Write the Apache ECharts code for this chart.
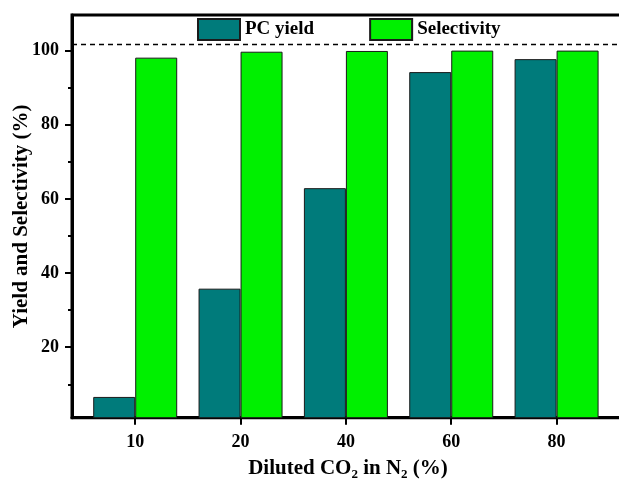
<!DOCTYPE html>
<html>
<head>
<meta charset="utf-8">
<script src="https://cdn.jsdelivr.net/npm/echarts@6/dist/echarts.min.js"></script>
<style>
  html, body { margin: 0; padding: 0; background: #fff; }
  #chart { width: 619px; height: 480px; }
</style>
</head>
<body>
<div id="chart"></div>
<script>
// CO2 concentration groups (x axis) and measured results per group
const categories = ['10', '20', '40', '60', '80'];
const pcYield = [6.6, 35.8, 62.9, 94.2, 97.7];
const selectivity = [98.1, 99.7, 99.9, 100, 100];
const yMajorTicks = [20, 40, 60, 80, 100];
const yMinorTicks = [10, 30, 50, 70, 90];
const referenceLevel = 101.6;

const FONT = '"Liberation Serif", "Times New Roman", serif';
const TEAL = '#007B7B';
const GREEN = '#00F000';

// categories are placed at positions 1..n on a numeric axis
const positions = categories.map((_, i) => i + 1);
const toPairs = (vals) => vals.map((v, i) => [positions[i], v]);

const chart = echarts.init(document.getElementById('chart'), null, { renderer: 'canvas' });

chart.setOption({
  animation: false,
  backgroundColor: '#fff',
  grid: {
    left: 72, top: 15, width: 552, height: 402.7,
    containLabel: false,
    outerBoundsMode: 'none',
    show: true, borderColor: '#000', borderWidth: 3, backgroundColor: 'transparent'
  },
  legend: {
    left: 192, top: 13,
    itemWidth: 42, itemHeight: 21, itemGap: 55,
    icon: 'rect',
    textStyle: { fontFamily: FONT, fontWeight: 'bold', fontSize: 19, color: '#000' },
    data: ['PC yield', 'Selectivity']
  },
  xAxis: {
    type: 'value',
    min: 0.4, max: 5.64,
    name: 'Diluted CO{sub|2} in N{sub|2} (%)',
    nameLocation: 'middle',
    nameGap: 39,
    nameTextStyle: {
      fontFamily: FONT, fontWeight: 'bold', fontSize: 21, color: '#000', lineHeight: 24,
      rich: {
        sub: { fontFamily: FONT, fontWeight: 'bold', fontSize: 13, color: '#000',
               lineHeight: 13, verticalAlign: 'bottom' }
      }
    },
    axisLine: { lineStyle: { color: '#000', width: 3 } },
    axisTick: { show: true, inside: false, length: 7, customValues: positions,
                lineStyle: { color: '#000', width: 2 } },
    axisLabel: {
      customValues: positions,
      formatter: (v) => categories[Math.round(v) - 1] || '',
      margin: 16,
      fontFamily: FONT, fontWeight: 'bold', fontSize: 18, color: '#000'
    },
    splitLine: { show: false }
  },
  yAxis: [
    {
      type: 'value',
      min: 1, max: 109.6,
      name: 'Yield and Selectivity (%)',
      nameLocation: 'middle',
      nameGap: 40,
      nameMoveOverlap: false,
      nameTextStyle: { fontFamily: FONT, fontWeight: 'bold', fontSize: 21, color: '#000' },
      axisLine: { show: true, lineStyle: { color: '#000', width: 3 } },
      axisTick: { show: true, inside: false, length: 7, customValues: yMajorTicks,
                  lineStyle: { color: '#000', width: 2 } },
      axisLabel: {
        customValues: yMajorTicks,
        margin: 13,
        fontFamily: FONT, fontWeight: 'bold', fontSize: 18, color: '#000'
      },
      splitLine: { show: false }
    },
    {
      // minor ticks between the labelled values
      type: 'value',
      min: 1, max: 109.6,
      position: 'left',
      axisLine: { show: false },
      axisTick: { show: true, inside: false, length: 4, customValues: yMinorTicks,
                  lineStyle: { color: '#000', width: 2 } },
      axisLabel: { show: false },
      splitLine: { show: false }
    }
  ],
  series: [
    {
      name: 'PC yield',
      type: 'bar',
      data: toPairs(pcYield),
      barWidth: 42,
      barGap: '0%',
      itemStyle: { color: TEAL, borderColor: '#1a1a1a', borderWidth: 1 }
    },
    {
      name: 'Selectivity',
      type: 'bar',
      data: toPairs(selectivity),
      barWidth: 42,
      barGap: '0%',
      itemStyle: { color: GREEN, borderColor: '#1a1a1a', borderWidth: 1 },
      markLine: {
        silent: true,
        symbol: ['none', 'none'],
        label: { show: false },
        lineStyle: { color: '#000', width: 1.3, type: [5, 4] },
        data: [{ yAxis: referenceLevel }]
      }
    }
  ]
});
</script>
</body>
</html>
